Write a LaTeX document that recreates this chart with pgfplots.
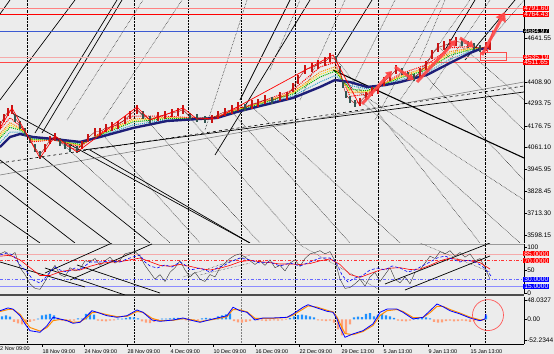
\documentclass[border=0pt]{standalone}
\usepackage{pgfplots}
\pgfplotsset{compat=1.18}
\usetikzlibrary{arrows.meta}
\usepackage{fontspec}
\setmainfont{Liberation Sans}
\definecolor{bg}{RGB}{236,236,236}
\definecolor{navyma}{RGB}{30,30,120}
\definecolor{lred}{RGB}{255,130,130}
\definecolor{pinkl}{RGB}{245,170,170}
\definecolor{lineblue}{RGB}{60,90,210}
\definecolor{hblue}{RGB}{30,144,255}
\definecolor{hsalmon}{RGB}{255,160,122}
\definecolor{morange}{RGB}{255,140,0}
\definecolor{zzred}{RGB}{255,70,70}
\definecolor{upc}{RGB}{200,20,20}
\definecolor{dnc}{RGB}{50,85,80}
\tikzset{
  lab/.style={font=\fontsize{6.6}{7}\selectfont},
  dlab/.style={font=\fontsize{5.5}{6}\selectfont},
  tag/.style={lab, anchor=west, text=white, inner xsep=1.2bp, inner ysep=0.1bp},
}
\pgfplotsset{
  px/.style={y filter/.expression={4842.7-5.296*y}},
  rpx/.style={y filter/.expression={(293-y)/0.46}},
  gsolid/.style={px, black, line width=0.7pt},
  gthick/.style={px, black, line width=1.1pt},
  gdash/.style={px, black, dashed, line width=0.6pt},
  gdot/.style={px, black, densely dotted, line width=0.5pt},
  candle/.style={draw=none, mark=none, error bars/.cd, y dir=both, y fixed=#1, error mark=none},
  common/.style={width=524bp, scale only axis, xmin=0, xmax=524,
    axis x line*=bottom, x axis line style={draw=none},
    axis y line*=right, y axis line style={black, line width=0.9pt},
    xtick={27,134,295,335,378,485}, xticklabels={},
    xmajorgrids, x grid style={black, densely dotted, line width=0.5pt},
    extra x ticks={188,241}, extra x tick labels={},
    extra x tick style={grid=major, major grid style={gray, densely dotted, line width=0.5pt}},
    xtick style={draw=none}, tick align=outside, major tick length=2.5bp,
    ytick style={black, line width=0.4pt},
    yticklabel style={lab, anchor=west, inner sep=0.6bp, text=black},
    clip mode=individual, anchor=south west},
}
\begin{document}
\begin{tikzpicture}
\useasboundingbox (0bp,0bp) rectangle (554bp,354bp);
\fill[bg] (0bp,0bp) rectangle (554bp,354bp);
% ================= MAIN PRICE PANEL =================
\begin{axis}[common, at={(0bp,111bp)}, height=243bp,
  ymin=3555.8, ymax=4842.7,
  ytick={3598.15,3713.30,3828.45,3945.95,4061.10,4176.75,4293.75,4408.90,4641.55},
  yticklabels={3598.15,3713.30,3828.45,3945.95,4061.10,4176.75,4293.75,4408.90,4641.55}]
% Gann / trend lines (pixel coordinates)
\addplot[gsolid] coordinates {(0,100) (75,0)};
\addplot[gsolid] coordinates {(0,14) (10,0)};
\addplot[gsolid] coordinates {(35,133) (117,0)};
\addplot[gsolid] coordinates {(42,133) (122,0)};
\addplot[gsolid] coordinates {(215,155) (310,0)};
\addplot[gsolid] coordinates {(240,100) (290,0)};
\addplot[gsolid] coordinates {(335,60) (372,0)};
\addplot[gsolid] coordinates {(445,50) (475,0)};
\addplot[gsolid] coordinates {(465,60) (515,0)};
\addplot[gsolid] coordinates {(12,113) (250,243)};
\addplot[gsolid] coordinates {(0,160) (110,243)};
\addplot[gsolid] coordinates {(0,185) (75,243)};
\addplot[gsolid] coordinates {(0,215) (40,243)};
\addplot[gsolid] coordinates {(40,155) (150,243)};
\addplot[gsolid] coordinates {(90,150) (250,243)};
\addplot[gthick] coordinates {(333,70) (524,158)};
\addplot[gsolid] coordinates {(83,150) (524,92)};
\addplot[px, gray, line width=0.6pt] coordinates {(0,175) (524,82)};
\addplot[gdash] coordinates {(0,163) (524,86)};
\addplot[gdot] coordinates {(67,120) (143,0)};
\addplot[gdot] coordinates {(103,120) (182,0)};
\addplot[gdot] coordinates {(205,130) (247,0)};
\addplot[gdot] coordinates {(270,70) (300,0)};
\addplot[gdot] coordinates {(300,100) (345,0)};
\addplot[gdot] coordinates {(350,90) (395,0)};
\addplot[gdot] coordinates {(375,120) (440,0)};
\addplot[gdot] coordinates {(400,100) (470,0)};
\addplot[gdot] coordinates {(420,60) (445,0)};
\addplot[gdot] coordinates {(430,90) (490,0)};
\addplot[gdot] coordinates {(490,40) (524,0)};
\addplot[gdot] coordinates {(55,137) (170,243)};
\addplot[gdot] coordinates {(100,132) (200,243)};
\addplot[gdot] coordinates {(137,110) (260,243)};
\addplot[gdot] coordinates {(183,110) (300,243)};
\addplot[gdot] coordinates {(230,110) (350,243)};
\addplot[gdot] coordinates {(333,55) (480,243)};
\addplot[gdot] coordinates {(340,80) (524,200)};
\addplot[gdot] coordinates {(360,100) (520,243)};
\addplot[gdot] coordinates {(420,70) (524,180)};
\addplot[gdot] coordinates {(440,48) (524,130)};
\addplot[gdot] coordinates {(460,45) (524,100)};
\addplot[gdot] coordinates {(250,105) (400,243)};
% horizontal levels
\addplot[px, lred, line width=0.8pt] coordinates {(0,8.3) (524,8.3)};
\addplot[px, red, line width=0.8pt] coordinates {(0,14.3) (524,14.3)};
\addplot[px, lineblue, line width=0.8pt] coordinates {(0,31) (524,31)};
\addplot[px, pinkl, line width=0.8pt] coordinates {(0,57.3) (524,57.3)};
\addplot[px, zzred, line width=0.8pt] coordinates {(0,62) (524,62)};
% rainbow band
\addplot[px, red, densely dotted, line width=1pt] coordinates {
(0,129.4) (10,117.8) (20,126) (33,141.8) (53,139.8) (80,146.8) (100,133) (133,116) (167,116.2) (200,118.2) (217,116.4) (237,108.8) (260,102) (293,90) (320,67) (335,62.4) (350,96.4) (367,94.2) (385,82.6) (400,74) (427,64.6) (450,47.8) (470,46.6) (480,48.2) (490,46.4)};
\addplot[px, orange, densely dotted, line width=1pt] coordinates {
(0,133.8) (10,122.6) (20,128) (33,140.6) (53,139.6) (80,145.6) (100,134) (133,119) (167,117.4) (200,118.4) (217,116.8) (237,109.6) (260,103) (293,92) (320,72) (335,66.8) (350,92.8) (367,92.4) (385,83.2) (400,76) (427,67.2) (450,51.6) (470,48.2) (480,48.4) (490,46.8)};
\addplot[px, yellow!80!orange, densely dotted, line width=1pt] coordinates {
(0,136) (10,125) (20,129) (33,140) (53,139.5) (80,145) (100,134.5) (133,120.5) (167,118) (200,118.5) (217,117) (237,110) (260,103.5) (293,93) (320,74.5) (335,69) (350,91) (367,91.5) (385,83.5) (400,77) (427,68.5) (450,53.5) (470,49) (480,48.5) (490,47)};
\addplot[px, green!70!black, densely dotted, line width=1pt] coordinates {
(0,138.2) (10,127.4) (20,130) (33,139.4) (53,139.4) (80,144.4) (100,135) (133,122) (167,118.6) (200,118.6) (217,117.2) (237,110.4) (260,104) (293,94) (320,77) (335,71.2) (350,89.2) (367,90.6) (385,83.8) (400,78) (427,69.8) (450,55.4) (470,49.8) (480,48.6) (490,47.2)};
\addplot[px, cyan!80!black, densely dotted, line width=1pt] coordinates {
(0,142.6) (10,132.2) (20,132) (33,138.2) (53,139.2) (80,143.2) (100,136) (133,125) (167,119.8) (200,118.8) (217,117.6) (237,111.2) (260,105) (293,96) (320,82) (335,75.6) (350,85.6) (367,88.8) (385,84.4) (400,80) (427,72.4) (450,59.2) (470,51.4) (480,48.8) (490,47.6)};
\addplot[navyma, line width=2.4pt] coordinates {
(0,4064) (10,4117) (20,4133) (33,4117) (53,4107) (80,4091) (100,4117) (133,4165) (167,4202) (200,4213) (217,4218) (237,4250) (260,4281) (293,4324) (320,4382) (335,4419) (350,4408) (367,4382) (385,4392) (400,4408) (427,4446) (450,4509) (470,4562) (480,4583) (490,4589)};
% candles: close line, rising and falling bars
\addplot[red!60!black, line width=0.4pt, mark=none] coordinates {
(0,4182) (4,4219) (8,4251) (12,4262) (15,4219) (20,4182) (25,4145) (30,4103) (35,4060) (40,4023) (45,4060) (50,4103) (55,4118) (60,4092) (65,4076) (70,4060) (77,4050) (82,4076) (88,4113) (95,4145) (100,4145) (106,4166) (112,4172) (118,4182) (125,4209) (130,4235) (137,4262) (143,4235) (150,4209) (158,4225) (165,4235) (172,4246) (178,4251) (183,4262) (190,4225) (197,4219) (205,4209) (212,4214) (218,4235) (225,4251) (232,4262) (238,4278) (245,4273) (252,4289) (258,4299) (265,4315) (272,4310) (280,4331) (287,4336) (293,4379) (298,4421) (305,4474) (312,4485) (318,4501) (325,4517) (330,4538) (336,4527) (340,4474) (343,4395) (346,4342) (350,4315) (355,4294) (360,4304) (366,4336) (372,4358) (378,4368) (384,4411) (390,4437) (396,4474) (402,4464) (408,4442) (414,4432) (420,4458) (426,4496) (432,4554) (438,4591) (444,4602) (450,4612) (456,4623) (462,4618) (468,4607) (474,4596) (480,4586) (486,4596) (490,4602)};
\addplot[candle=22, error bar style={line width=1.3pt, color=upc}] coordinates {
(0,4182) (4,4219) (8,4251) (12,4262) (45,4060) (50,4103) (55,4118) (82,4076) (88,4113) (95,4145) (100,4145) (106,4166) (112,4172) (118,4182) (125,4209) (130,4235) (137,4262) (158,4225) (165,4235) (172,4246) (178,4251) (183,4262) (212,4214) (218,4235) (225,4251) (232,4262) (238,4278) (252,4289) (258,4299) (265,4315) (280,4331) (287,4336) (293,4379) (298,4421) (305,4474) (312,4485) (318,4501) (325,4517) (330,4538) (360,4304) (366,4336) (372,4358) (378,4368) (384,4411) (390,4437) (396,4474) (420,4458) (426,4496) (432,4554) (438,4591) (444,4602) (450,4612) (456,4623) (486,4596) (490,4602)};
\addplot[candle=20, error bar style={line width=1.3pt, color=dnc}] coordinates {
(15,4219) (20,4182) (25,4145) (30,4103) (35,4060) (40,4023) (60,4092) (65,4076) (70,4060) (77,4050) (143,4235) (150,4209) (190,4225) (197,4219) (205,4209) (245,4273) (272,4310) (336,4527) (340,4474) (343,4395) (346,4342) (350,4315) (355,4294) (402,4464) (408,4442) (414,4432) (462,4618) (468,4607) (474,4596) (480,4586)};
% zigzag
\addplot[px, red, line width=0.7pt] coordinates {(0,128) (12,108) (40,158) (55,136) (77,152) (137,107) (150,120) (170,113) (183,108) (197,119) (217,118) (333,55) (360,106)};
\addplot[px, red, line width=0.6pt] coordinates {(487,53) (493,30)};
% thick red arrows
\addplot[px, zzred, opacity=0.9, line width=3pt, -{Triangle[length=6pt,width=8pt]}] coordinates {(362,104) (392,71)};
\addplot[px, zzred, opacity=0.9, line width=3pt, -{Triangle[length=6pt,width=8pt]}] coordinates {(395,67) (414,80)};
\addplot[px, zzred, opacity=0.9, line width=3pt, -{Triangle[length=6pt,width=8pt]}] coordinates {(417,82) (456,40)};
\addplot[px, zzred, opacity=0.9, line width=3pt, -{Triangle[length=6pt,width=8pt]}] coordinates {(460,38) (474,47)};
\addplot[px, zzred, opacity=0.9, line width=3pt, -{Triangle[length=9pt,width=11pt]}] coordinates {(482,55) (505,12)};
\addplot[px, red!70, line width=0.6pt] coordinates {(480,52) (506,52) (506,60) (480,60) (480,52)};
% price tags
\node[tag, fill=red] at (axis cs:523,4798.7) {4791.60};
\node[tag, fill=red] at (axis cs:523,4766.9) {4764.43};
\node[tag, fill=black] at (axis cs:523,4678.5) {4684.97};
\node[tag, fill=red] at (axis cs:523,4541.2) {4535.19};
\node[tag, fill=red] at (axis cs:523,4513.4) {4511.65};
\end{axis}
% ================= RSI PANEL =================
\begin{axis}[common, at={(0bp,60bp)}, height=50bp, ymin=-2.17, ymax=106.5,
  ytick={0,50,100}, yticklabels={0,50,100}]
\draw[gray!80, line width=0.8pt] (rel axis cs:0,1) -- (rel axis cs:1,1);
\draw[black!70, line width=2bp] ([yshift=-1bp]rel axis cs:0,0) -- ([yshift=-1bp]rel axis cs:1,0);
\addplot[pinkl, line width=0.6pt] coordinates {(0,85) (524,85)};
\addplot[red!80, dash dot, line width=0.6pt] coordinates {(0,70) (524,70)};
\addplot[blue!60, dash dot, line width=0.6pt] coordinates {(0,30) (524,30)};
\addplot[blue!45, line width=0.6pt] coordinates {(0,15) (524,15)};
% channel lines
\addplot[rpx, black, line width=0.7pt] coordinates {(0,262) (85,287)};
\addplot[rpx, black, line width=0.7pt] coordinates {(45,268) (125,295)};
\addplot[rpx, black, line width=0.7pt] coordinates {(45,273) (112,243)};
\addplot[rpx, black, line width=0.7pt] coordinates {(70,280) (152,244)};
\addplot[rpx, black, line width=0.7pt] coordinates {(77,265) (160,293)};
\addplot[rpx, black, line width=0.7pt] coordinates {(385,284) (490,243)};
\addplot[rpx, black, line width=0.7pt] coordinates {(405,290) (490,256)};
\addplot[rpx, black, densely dotted] coordinates {(420,243) (490,272)};
\addplot[rpx, black, densely dotted] coordinates {(183,277) (250,255)};
\addplot[rpx, black, densely dotted] coordinates {(200,275) (250,263)};
\addplot[rpx, black, densely dotted] coordinates {(300,245) (380,290)};
% stochastic-like black line
\addplot[black!80, line width=0.4pt] coordinates {
(0,85) (5,90) (10,80) (15,88) (20,55) (25,40) (30,20) (35,10) (40,8) (45,25) (50,45) (55,60) (60,40) (65,35) (70,55) (75,48) (80,52) (85,70) (90,68) (95,75) (100,60) (105,70) (110,78) (115,65) (120,72) (125,85) (130,88) (135,90) (140,80) (145,60) (150,45) (155,30) (160,40) (165,25) (170,45) (175,55) (180,70) (185,50) (190,35) (195,45) (200,30) (205,25) (210,40) (215,35) (220,55) (225,65) (230,75) (235,82) (240,85) (245,78) (250,70) (255,62) (260,70) (265,60) (270,72) (275,55) (280,60) (285,48) (290,65) (295,72) (300,58) (305,75) (310,85) (315,88) (320,92) (325,85) (330,90) (335,70) (340,30) (345,10) (350,12) (355,20) (360,30) (365,15) (370,35) (375,45) (380,25) (385,40) (390,55) (395,30) (400,22) (405,35) (410,20) (415,45) (420,50) (425,65) (430,80) (435,75) (440,90) (445,85) (450,92) (455,80) (460,88) (465,78) (470,85) (475,70) (480,75) (485,55) (490,30)};
\addplot[red, line width=0.6pt] coordinates {
(0,80) (10,82) (20,72) (30,55) (40,38) (50,38) (60,46) (70,50) (80,50) (90,58) (100,64) (110,67) (120,68) (130,72) (140,76) (150,68) (160,60) (170,58) (180,62) (190,58) (200,53) (210,50) (220,54) (230,60) (240,68) (250,71) (260,68) (270,66) (280,63) (290,63) (300,62) (310,64) (320,70) (330,74) (340,62) (350,40) (360,34) (370,42) (380,50) (390,54) (400,55) (410,51) (420,52) (430,60) (440,70) (450,76) (460,72) (470,70) (480,66) (490,52)};
\addplot[blue, line width=0.6pt, densely dashed] coordinates {
(0,82.6) (7,87) (13,82.6) (20,60.9) (27,45.7) (33,28.3) (40,21.7) (45,32.6) (50,45.7) (55,56.5) (60,50) (67,45.7) (75,54.3) (80,50) (90,67.4) (100,67.4) (110,69.6) (120,67.4) (127,73.9) (133,78.3) (140,82.6) (145,67.4) (150,58.7) (157,54.3) (165,60.9) (172,56.5) (180,67.4) (185,60.9) (190,50) (200,54.3) (210,45.7) (217,54.3) (225,60.9) (230,67.4) (240,76.1) (250,71.7) (260,65.2) (270,67.4) (280,58.7) (290,65.2) (300,58.7) (310,67.4) (320,76.1) (330,76.1) (336,67.4) (342,39.1) (348,23.9) (355,32.6) (362,37) (370,50) (378,54.3) (385,50) (392,58.7) (400,54.3) (408,45.7) (415,50) (422,58.7) (430,67.4) (437,76.1) (445,80.4) (452,73.9) (460,67.4) (468,71.7) (475,67.4) (482,58.7) (488,45.7) (491,37)};
\node[tag, fill=red] at (axis cs:523,85) {85.0000};
\node[tag, fill=red] at (axis cs:523,70) {70.0000};
\node[tag, fill=blue] at (axis cs:523,30) {30.0000};
\node[tag, fill=blue] at (axis cs:523,15) {15.0000};
\end{axis}
% ================= MACD PANEL =================
\begin{axis}[common, at={(0bp,10bp)}, height=47bp, ymin=-61.25, ymax=56.25,
  axis x line*=bottom, x axis line style={draw=black, line width=0.9pt},
  xtick={42,84,127,170,213,255,299,341,383,428,470},
  xticklabels={18 Nov 09:00,24 Nov 09:00,28 Nov 09:00,4 Dec 09:00,10 Dec 09:00,16 Dec 09:00,22 Dec 09:00,29 Dec 13:00,5 Jan 13:00,9 Jan 13:00,15 Jan 13:00},
  xticklabel style={dlab, anchor=north west, inner sep=0pt, yshift=-2.5bp, xshift=0.3bp, text=black},
  xtick style={draw=black, line width=0.4pt}, xmajorgrids=false,
  extra x ticks={}, 
  ytick={-52.2344,0,48.0327}, yticklabels={-52.2344,0.00,48.0327}]
\addplot[black, densely dotted, line width=0.5pt] coordinates {(27,-61.25) (27,56.25)};
\addplot[black, densely dotted, line width=0.5pt] coordinates {(134,-61.25) (134,56.25)};
\addplot[gray, densely dotted, line width=0.5pt] coordinates {(188,-61.25) (188,56.25)};
\addplot[gray, densely dotted, line width=0.5pt] coordinates {(241,-61.25) (241,56.25)};
\addplot[black, densely dotted, line width=0.5pt] coordinates {(295,-61.25) (295,56.25)};
\addplot[black, densely dotted, line width=0.5pt] coordinates {(335,-61.25) (335,56.25)};
\addplot[black, densely dotted, line width=0.5pt] coordinates {(378,-61.25) (378,56.25)};
\addplot[black, densely dotted, line width=0.5pt] coordinates {(485,-61.25) (485,56.25)};
\addplot[ybar, bar width=2.2bp, fill=hblue, draw=none] coordinates {
(2,8) (6,10) (10,7) (38,2) (42,10) (46,12) (50,14) (54,10) (58,4) (78,3) (82,2) (86,14) (90,17) (94,12) (118,2) (122,2) (126,4) (130,6) (134,5) (138,3) (162,2) (166,2) (170,3) (174,4) (178,4) (182,3) (202,3) (206,4) (210,3) (214,2) (218,8) (222,10) (226,13) (230,15) (254,2) (290,4) (294,8) (298,11) (302,12) (306,10) (310,8) (314,5) (354,5) (358,7) (362,6) (366,14) (370,16) (374,8) (378,12) (382,14) (386,10) (390,8) (394,4) (414,2) (418,4) (422,6) (426,5) (430,3) (486,10)};
\addplot[ybar, bar width=2.2bp, fill=hsalmon, draw=none] coordinates {
(14,-6) (18,-10) (22,-12) (26,-11) (30,-6) (34,-3) (62,-3) (66,-5) (70,-4) (74,-3) (98,-3) (102,-4) (106,-5) (110,-3) (114,-2) (142,-5) (146,-8) (150,-9) (154,-6) (158,-3) (186,-2) (190,-4) (194,-3) (198,-2) (234,-4) (238,-7) (242,-8) (246,-6) (250,-4) (258,-2) (262,-3) (266,-4) (270,-3) (274,-2) (278,-3) (282,-2) (286,-1) (318,-2) (322,-3) (326,-4) (330,-3) (334,-8) (338,-25) (342,-40) (346,-35) (350,-12) (398,-3) (402,-4) (406,-5) (410,-3) (434,-6) (438,-8) (442,-7) (446,-4) (450,-3) (454,-5) (458,-4) (462,-3) (466,-4) (470,-6) (474,-5) (478,-4) (482,-3)};
\addplot[morange, line width=1pt] coordinates {
(0,20) (8,25) (13,25) (20,13) (25,-4) (30,-20) (40,-29) (47,-20) (53,-3) (60,0) (67,-2) (73,-7) (80,-6) (87,5) (92,17) (97,18) (107,12) (117,7) (127,8) (137,20) (143,18) (152,3) (160,-3) (173,-2) (183,2) (193,-1) (200,-5) (213,0) (227,7) (233,25) (240,24) (247,19) (255,3) (263,3) (273,3) (287,5) (293,11) (303,26) (308,34) (317,31) (327,23) (333,19) (337,6) (340,-10) (345,-35) (353,-38) (363,-30) (373,-15) (380,10) (387,22) (397,25) (403,20) (413,5) (423,5) (430,17) (437,33) (443,33) (450,25) (460,16) (470,6) (480,-1) (485,0)};
\addplot[blue, line width=0.8pt] coordinates {
(0,22) (8,28.8) (13,26) (20,9.5) (25,-11) (30,-28) (40,-32) (47,-15.5) (53,5.5) (60,1.3) (67,-3) (73,-9.5) (80,-7) (87,9.5) (92,22) (97,18) (107,9.5) (117,5.5) (127,9.5) (137,23.8) (143,18) (152,-1.3) (160,-4.5) (173,-1.3) (183,3.8) (193,-3) (200,-7) (213,1.3) (227,9.5) (233,30.5) (240,22) (247,18) (255,-1.3) (263,3.8) (273,3.8) (287,5.5) (293,13.8) (303,30.5) (308,37) (317,28.8) (327,20.5) (333,18) (337,1.3) (340,-19.5) (345,-44.5) (353,-36) (363,-28) (373,-11) (380,18) (387,26) (397,26) (403,18) (413,1.3) (423,5.5) (430,22) (437,38.8) (443,32) (450,22) (460,13.8) (470,3.8) (480,-3) (485,1.3) (486,13.8)};
\draw[red!65, line width=0.7pt] (axis cs:488,11) circle[radius=15.5bp];
\node[dlab, anchor=north west, inner sep=0pt, text=black] at ([yshift=-2.5bp,xshift=-3bp]axis cs:0,-61.25) {12 Nov 09:00};
\end{axis}
\end{tikzpicture}
\end{document}
